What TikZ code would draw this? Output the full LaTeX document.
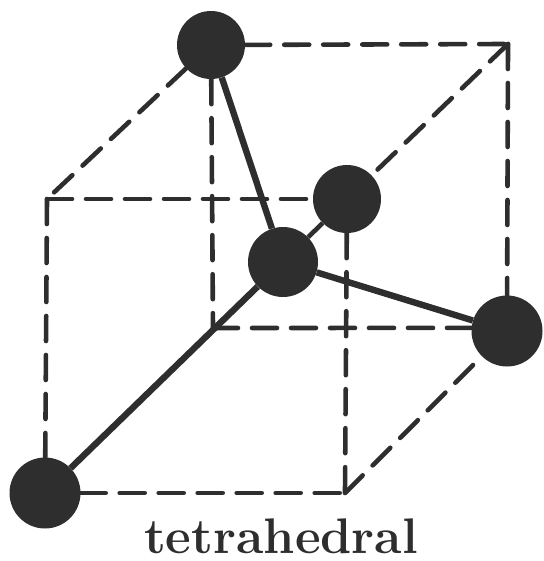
\documentclass[tikz,border=0pt]{standalone}
\usepackage{amsmath,amssymb,amsfonts}
\usetikzlibrary{positioning,calc}
\definecolor{inkdark}{gray}{0.18}
\tikzset{
  atom/.style={circle,fill=inkdark,draw=none,minimum size=#1,inner sep=0pt},
  edge/.style={draw=inkdark,line width=4.6pt,line cap=round,dash pattern=on 25pt off 14pt},
  bond/.style={draw=inkdark,line width=6.4pt}
}
\begin{document}
\begin{tikzpicture}[x=1pt,y=-1pt]
  \useasboundingbox (0,0) rectangle (543,561);
  % cube corners, back face then front face
  \coordinate (bl) at (213,328);
  \coordinate (tr) at (508,44);
  \coordinate (fl) at (47,199);
  \coordinate (fr) at (345,199);
  \coordinate (fd) at (345,493);
  \node[atom=68pt] (topatom) at (211,45) {};
  \node[atom=71pt] (rightatom) at (507,331) {};
  \node[atom=71pt] (leftatom) at (45,493) {};
  \node[atom=68pt] (backatom) at (347,199) {};
  % dashed edges
  \draw[edge] (topatom) -- (tr);
  \draw[edge] (tr) -- (rightatom);
  \draw[edge] (topatom) -- (fl);
  \draw[edge] (tr) -- (backatom);
  \draw[edge] (fl) -- (backatom);
  \draw[edge] (fl) -- (leftatom);
  \draw[edge] (leftatom) -- (fd);
  \draw[edge] (backatom) -- (fd);
  \draw[edge] (fd) -- (rightatom);
  \draw[edge] (topatom) -- (bl);
  \draw[edge] (bl) -- (rightatom.175);
  % bonds to the centre
  \node[atom=70pt] (centeratom) at (283,262) {};
  \draw[bond] (topatom) -- (centeratom);
  \draw[bond] (leftatom) -- (centeratom);
  \draw[bond] (rightatom) -- (centeratom);
  \draw[bond,line width=4.6pt] (backatom) -- (centeratom);
  \node[font=\fontsize{50}{50}\selectfont\bfseries,anchor=base,inner sep=0pt,text=inkdark] (caption) at (281,553) {tetrahedral};
\end{tikzpicture}
\end{document}
